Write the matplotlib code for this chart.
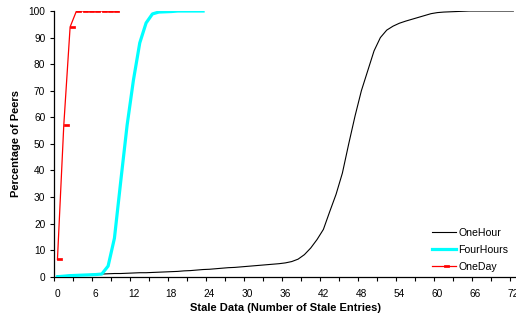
import numpy as np
import matplotlib
matplotlib.use("Agg")
import matplotlib.pyplot as plt
from matplotlib.path import Path
from matplotlib.markers import MarkerStyle

plt.rcParams["font.family"] = ["Liberation Sans", "DejaVu Sans"]

# Cumulative percentage of peers vs. number of stale entries
one_hour = [0.3, 0.4, 0.5, 0.6, 0.7, 0.8, 0.9, 1.0, 1.1, 1.2,
            1.2, 1.3, 1.4, 1.5, 1.5, 1.6, 1.7, 1.8, 1.9, 2.0,
            2.2, 2.3, 2.5, 2.7, 2.8, 3.0, 3.2, 3.4, 3.5, 3.7,
            3.9, 4.1, 4.3, 4.5, 4.7, 4.9, 5.2, 5.7, 6.6, 8.3,
            10.8, 14.0, 17.8, 24.5, 31.0, 39.0, 50.0, 60.5, 70.0, 77.5,
            85.0, 90.0, 92.8, 94.3, 95.4, 96.2, 96.9, 97.6, 98.3, 99.0,
            99.4, 99.6, 99.7, 99.8, 99.9, 100, 100, 100, 100, 100,
            100, 100, 100]
four_hours = [0.0, 0.2, 0.4, 0.5, 0.6, 0.7, 0.8, 1.0, 4.0, 14.5,
              36.0, 57.0, 74.0, 88.0, 95.5, 98.9, 99.6, 99.7, 99.8, 100,
              100, 100, 100, 100]
one_day = [6.5, 57.0, 94.0, 100, 100, 100, 100, 100, 100, 100]

series_labels = ["OneHour", "FourHours", "OneDay"]
x_tick_labels = [str(v) for v in range(0, 73, 6)]
y_tick_values = list(range(0, 101, 10))

fig = plt.figure(figsize=(5.16, 3.2), dpi=100)
ax = fig.add_axes([0.1052, 0.1353, 0.8958, 0.8303])

# short horizontal dash marker that starts at the data point
dash = MarkerStyle(Path([(0, -0.3), (1, -0.3), (1, 0.3), (0, 0.3), (0, -0.3)],
                        [Path.MOVETO, Path.LINETO, Path.LINETO, Path.LINETO, Path.CLOSEPOLY]))

ax.plot(np.arange(len(one_hour)), one_hour, color="black", lw=0.8,
        label=series_labels[0], zorder=2)
ax.plot(np.arange(len(four_hours)), four_hours, color="#00FFFF", lw=2.3,
        label=series_labels[1], zorder=3, solid_joinstyle="round")
ax.plot(np.arange(len(one_day)), one_day, color="#FF0000", lw=0.9,
        marker=dash, markersize=6.8, markerfacecolor="#FF0000",
        markeredgecolor="#FF0000", markeredgewidth=0.5,
        label=series_labels[2], zorder=4)

ax.set_xlim(-0.5, 72.5)
ax.set_ylim(0, 100)

ax.set_xticks(np.arange(0, 73, 6))
ax.set_xticklabels(x_tick_labels)
ax.set_xticks(np.arange(-0.5, 73, 3), minor=True)
ax.tick_params(axis="x", which="major", length=0, pad=8.5, labelsize=7.3)
ax.tick_params(axis="x", which="minor", length=3, width=0.8, direction="out")
ax.set_yticks(y_tick_values)
ax.tick_params(axis="y", which="major", length=3, width=0.8, pad=3.5, labelsize=7.3)

for side in ("top", "right"):
    ax.spines[side].set_visible(False)
for side in ("left", "bottom"):
    ax.spines[side].set_linewidth(0.9)

ax.set_xlabel("Stale Data (Number of Stale Entries)", fontsize=8,
              fontweight="bold", labelpad=3)
ax.set_ylabel("Percentage of Peers", fontsize=8, fontweight="bold", labelpad=5.5)

leg = fig.legend(loc="upper left", bbox_to_anchor=(432 / 516, 1 - 227.5 / 320),
                 frameon=False, fontsize=7.6, handlelength=2.3,
                 handletextpad=0.2, labelspacing=0.68, borderpad=0,
                 borderaxespad=0, numpoints=1)

fig.savefig("out.png", dpi=100)
